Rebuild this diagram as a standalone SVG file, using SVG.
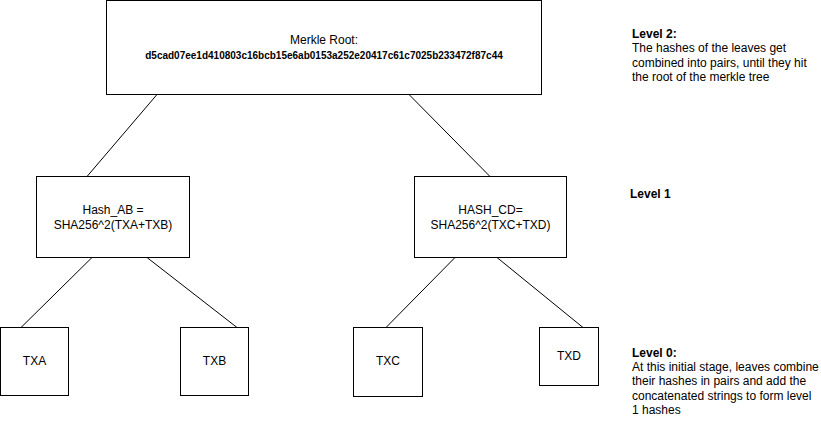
<svg xmlns="http://www.w3.org/2000/svg" width="821" height="431" viewBox="0 0 821 431">
<style>
.box{fill:#ffffff;stroke:#000000;stroke-width:1}
.edge{fill:none;stroke:#000000;stroke-width:1}
text{font-family:"Liberation Sans",Arial,Helvetica,sans-serif;font-size:12px;fill:#000000}
.c{text-anchor:middle}
.b{font-weight:bold}
.h{font-size:10px;font-weight:bold}
</style>
<rect width="821" height="431" fill="#ffffff"/>
<g id="connectors">
<line class="edge" x1="157" y1="94.5" x2="87" y2="176.5"/>
<line class="edge" x1="409" y1="94.5" x2="490" y2="176.5"/>
<line class="edge" x1="92" y1="257.5" x2="21" y2="327.5"/>
<line class="edge" x1="147" y1="257.5" x2="237" y2="327.5"/>
<line class="edge" x1="455" y1="257.5" x2="386" y2="327.5"/>
<line class="edge" x1="497" y1="257.5" x2="583" y2="327.5"/>
</g>
<g id="root">
<rect class="box" x="106.5" y="0.5" width="435" height="94"/>
<text class="c" x="324" y="44">Merkle Root:</text>
<text class="c h" x="324" y="58.5">d5cad07ee1d410803c16bcb15e6ab0153a252e20417c61c7025b233472f87c44</text>
</g>
<g id="hash_ab">
<rect class="box" x="36.5" y="176.5" width="153" height="81"/>
<text class="c" x="113" y="214">Hash_AB =</text>
<text class="c" x="113" y="229">SHA256^2(TXA+TXB)</text>
</g>
<g id="hash_cd">
<rect class="box" x="414.5" y="176.5" width="152" height="81"/>
<text class="c" x="490.5" y="214">HASH_CD=</text>
<text class="c" x="490.5" y="229">SHA256^2(TXC+TXD)</text>
</g>
<g id="txa">
<rect class="box" x="0.5" y="327.5" width="68" height="68"/>
<text class="c" x="34.5" y="365">TXA</text>
</g>
<g id="txb">
<rect class="box" x="180.5" y="327.5" width="68" height="68"/>
<text class="c" x="214.5" y="365">TXB</text>
</g>
<g id="txc">
<rect class="box" x="353.5" y="327.5" width="69" height="69"/>
<text class="c" x="388" y="365">TXC</text>
</g>
<g id="txd">
<rect class="box" x="539.5" y="327.5" width="59" height="58"/>
<text class="c" x="569" y="360">TXD</text>
</g>
<g id="level2">
<text class="b" x="632" y="37.5">Level 2:</text>
<text x="632" y="52">The hashes of the leaves get</text>
<text x="632" y="66.5">combined into pairs, until they hit</text>
<text x="632" y="81">the root of the merkle tree</text>
</g>
<g id="level1">
<text class="b" x="630" y="198">Level 1</text>
</g>
<g id="level0">
<text class="b" x="632" y="356.5">Level 0:</text>
<text x="632" y="371">At this initial stage, leaves combine</text>
<text x="632" y="385">their hashes in pairs and add the</text>
<text x="632" y="399.5">concatenated strings to form level</text>
<text x="632" y="413.5">1 hashes</text>
</g>
</svg>
